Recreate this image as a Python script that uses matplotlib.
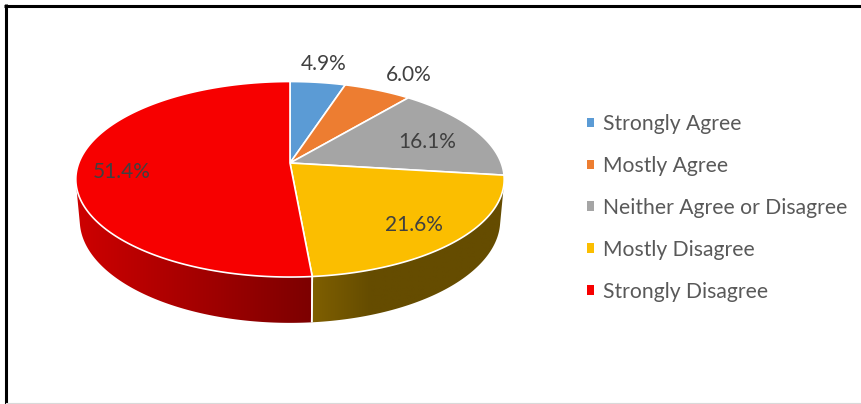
import numpy as np
import matplotlib
matplotlib.use("Agg")
import matplotlib.pyplot as plt
from matplotlib.patches import Polygon, Rectangle

# ---- data ----
categories = ["Strongly Agree", "Mostly Agree", "Neither Agree or Disagree",
              "Mostly Disagree", "Strongly Disagree"]
values = [4.9, 6.0, 16.1, 21.6, 51.4]
label_texts = ["4.9%", "6.0%", "16.1%", "21.6%", "51.4%"]

# ---- style ----
top_colors = ["#5B9BD5", "#ED7D31", "#A5A5A5", "#FBBE00", "#F70000"]
# wall gradients: list of (screen x, rgb)
wall_grad = {
    3: [(310, (128, 96, 0)), (370, (101, 76, 0)), (520, (101, 76, 0))],
    4: [(70, (208, 0, 0)), (310, (125, 0, 0))],
}
label_r = [1.275, 1.28, 0.71, 0.79, 0.79]
label_dth = [0.0, -2.9, -3.4, -2.0, 4.3]

plt.rcParams['font.family'] = ['Lato', 'DejaVu Sans']

W, H = 862, 404
fig = plt.figure(figsize=(W / 100, H / 100), dpi=100)
ax = fig.add_axes([0, 0, 1, 1])
ax.set_xlim(0, W)
ax.set_ylim(H, 0)
ax.axis("off")

# perspective projection of a unit disk
F, Dcam, s = 1132.0, 5.36, 0.45
c = np.sqrt(1 - s * s)
hgt = 0.218
cx, cy = 290.0, 163.0


def proj(theta_deg, r=1.0, z=0.0):
    t = np.radians(theta_deg)
    X = r * np.cos(t)
    Y = r * np.sin(t)
    depth = Dcam + Y * c - z * s
    return cx + F * X / depth, cy - F * (Y * s + z * c) / depth


total = float(sum(values))
cum = np.concatenate([[0], np.cumsum(values)]) / total
# clockwise from 12 o'clock
starts = 90 - 360 * cum[:-1]
ends = 90 - 360 * cum[1:]

# visible wall angular range (front)
t0 = np.degrees(np.arcsin(1.0 / (Dcam * c)))
vis_lo, vis_hi = 180 + t0, 360 - t0

# walls
for i in range(len(values)):
    lo = ends[i] % 360
    hi = lo + (starts[i] - ends[i])
    L = max(lo, vis_lo)
    Hh = min(hi, vis_hi)
    if Hh <= L:
        continue
    th = np.linspace(L, Hh, 300)
    tx, ty = proj(th)
    bx, by = proj(th[::-1], z=-hgt)
    pts = np.column_stack([np.concatenate([tx, bx]), np.concatenate([ty, by])])
    poly = Polygon(pts, closed=True, facecolor="none", edgecolor="none")
    ax.add_patch(poly)
    x0, x1 = pts[:, 0].min() - 2, pts[:, 0].max() + 2
    y0, y1 = pts[:, 1].min() - 2, pts[:, 1].max() + 2
    gx = np.linspace(x0, x1, 400)
    stops = wall_grad[i]
    xs = [p[0] for p in stops]
    img = np.zeros((2, len(gx), 3))
    for k in range(3):
        img[:, :, k] = np.interp(gx, xs, [p[1][k] for p in stops]) / 255.0
    im = ax.imshow(img, extent=(x0, x1, y1, y0), origin="upper",
                   aspect="auto", interpolation="bilinear", zorder=1)
    im.set_clip_path(poly)
    for e in (lo, hi):
        if vis_lo < e < vis_hi:
            xa, ya = proj(e)
            xb, yb = proj(e, z=-hgt)
            ax.plot([xa, xb], [ya, yb], color="white", lw=1.2,
                    solid_capstyle="butt", zorder=2)

ax.set_xlim(0, W)
ax.set_ylim(H, 0)

# top faces
for i in range(len(values)):
    th = np.linspace(starts[i], ends[i], 200)
    xs, ys = proj(th)
    pts = [(cx, cy)] + list(zip(xs, ys))
    ax.add_patch(Polygon(pts, closed=True, facecolor=top_colors[i],
                         edgecolor="white", lw=1.2, joinstyle="round", zorder=3))

# data labels
for i in range(len(values)):
    mid = (starts[i] + ends[i]) / 2 + label_dth[i]
    lx, ly = proj(mid, r=label_r[i])
    ax.text(lx, ly, label_texts[i], ha="center", va="center",
            fontsize=15, color="#404040", zorder=4)

# legend
handles = [Rectangle((0, 0), 1, 1, facecolor=col, edgecolor="none") for col in top_colors]
leg = ax.legend(handles, categories, loc="upper left",
                bbox_to_anchor=(587 / W, 1 - 114 / H), bbox_transform=fig.transFigure,
                frameon=False, fontsize=15.2, handlelength=0.33, handleheight=0.33,
                handletextpad=0.45, labelspacing=1.04, borderpad=0, borderaxespad=0)
for t in leg.get_texts():
    t.set_color("#595959")

# frame lines
ax.plot([4, W], [5.5, 5.5], color="black", lw=2.2, solid_capstyle="butt", zorder=5)
ax.plot([6, 6], [4, H], color="black", lw=2.2, solid_capstyle="butt", zorder=5)
ax.plot([6, W], [402.5, 402.5], color="#D9D9D9", lw=0.8, zorder=5)

fig.savefig("out.png", dpi=100)
